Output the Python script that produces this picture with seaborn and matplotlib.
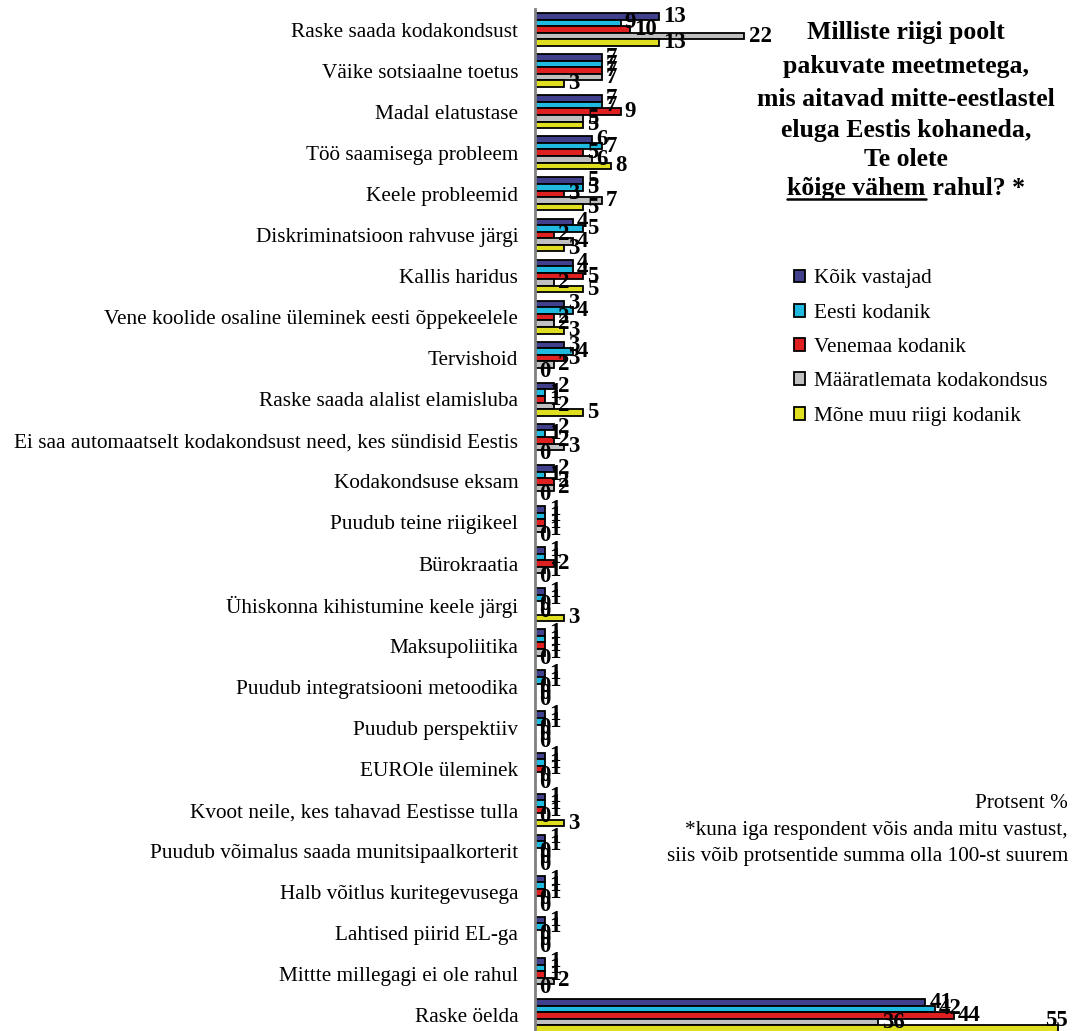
import numpy as np
import pandas as pd
import matplotlib
matplotlib.use("Agg")
import matplotlib.pyplot as plt
from matplotlib.lines import Line2D
import seaborn as sns

# andmed (protsendid)
categories = [
    "Raske saada kodakondsust",
    "Väike sotsiaalne toetus",
    "Madal elatustase",
    "Töö saamisega probleem",
    "Keele probleemid",
    "Diskriminatsioon rahvuse järgi",
    "Kallis haridus",
    "Vene koolide osaline üleminek eesti õppekeelele",
    "Tervishoid",
    "Raske saada alalist elamisluba",
    "Ei saa automaatselt kodakondsust need, kes sündisid Eestis",
    "Kodakondsuse eksam",
    "Puudub teine riigikeel",
    "Bürokraatia",
    "Ühiskonna kihistumine keele järgi",
    "Maksupoliitika",
    "Puudub integratsiooni metoodika",
    "Puudub perspektiiv",
    "EUROle üleminek",
    "Kvoot neile, kes tahavad Eestisse tulla",
    "Puudub võimalus saada munitsipaalkorterit",
    "Halb võitlus kuritegevusega",
    "Lahtised piirid EL-ga",
    "Mittte millegagi ei ole rahul",
    "Raske öelda",
]
series = ["Kõik vastajad", "Eesti kodanik", "Venemaa kodanik",
          "Määratlemata kodakondsus", "Mõne muu riigi kodanik"]

koik = [13, 7, 7, 6, 5, 4, 4, 3, 3, 2, 2, 2, 1, 1, 1, 1, 1, 1, 1, 1, 1, 1, 1, 1, 41]
eesti = [9, 7, 7, 7, 5, 5, 4, 4, 4, 1, 1, 1, 1, 1, 1, 1, 1, 1, 1, 1, 1, 1, 1, 1, 42]
venemaa = [10, 7, 9, 5, 3, 2, 5, 2, 3, 1, 2, 2, 1, 2, 0, 1, 0, 0, 1, 1, 0, 1, 0, 1, 44]
maaratlemata = [22, 7, 5, 6, 7, 4, 2, 2, 2, 2, 3, 2, 1, 1, 0, 1, 0, 0, 0, 0, 0, 0, 0, 2, 36]
muu = [13, 3, 5, 8, 5, 3, 5, 3, 0, 5, 0, 0, 0, 0, 3, 0, 0, 0, 0, 3, 0, 0, 0, 0, 55]

colors = ["#333399", "#00CCFF", "#FF0000", "#C0C0C0", "#FFFF00"]

df = pd.DataFrame({"kategooria": categories, series[0]: koik, series[1]: eesti,
                   series[2]: venemaa, series[3]: maaratlemata, series[4]: muu})
long = df.melt(id_vars="kategooria", var_name="grupp", value_name="protsent")

sns.set_style("white")
plt.rcParams["font.family"] = ["Liberation Serif", "DejaVu Serif"]
plt.rcParams["text.color"] = "black"
plt.rcParams["ytick.labelcolor"] = "black"
plt.rcParams["legend.labelcolor"] = "black"

W, H = 1073, 1031
fig = plt.figure(figsize=(W / 100, H / 100), dpi=100)
ax = fig.add_axes([535 / W, 1 - 1036 / H, (1068 - 535) / W, (1036 - 9) / H])

sns.barplot(data=long, y="kategooria", x="protsent", hue="grupp",
            order=categories, hue_order=series, palette=colors,
            orient="h", errorbar=None, edgecolor="black", linewidth=1.3,
            width=0.8, ax=ax)

for cont in ax.containers:
    anns = ax.bar_label(cont, labels=[f"{b.get_width():g}" for b in cont],
                        padding=3, fontsize=16.5, fontweight="bold",
                        color="black")
    # viimane silt (55) ei mahu paremale - nihutame vasakule
    last = anns[-1]
    if cont.patches[-1].get_width() > 50:
        last.set_horizontalalignment("right")
        last.xyann = (7, 6)

ax.set_xlim(0, 56)
ax.set_xlabel("")
ax.set_ylabel("")
ax.set_xticks([])
for s in ["top", "right", "bottom"]:
    ax.spines[s].set_visible(False)
ax.spines["left"].set_color("#808080")
ax.spines["left"].set_linewidth(2)
ax.tick_params(axis="y", which="major", length=0, pad=12, labelsize=15.3,
               labelcolor="black")
ax.set_yticks(np.arange(-0.5, len(categories)), minor=True)
ax.tick_params(axis="y", which="minor", length=7, width=1.5, color="#808080")

ax.legend(loc="upper left", bbox_to_anchor=(785 / W, 1 - 261 / H),
          bbox_transform=fig.transFigure, frameon=False, fontsize=15.3,
          handlelength=0.55, handleheight=0.55, handletextpad=0.4,
          labelspacing=0.72, borderaxespad=0)

# pealkiri
cx = 906
fs_title = 18.5
title_lines = ["Milliste riigi poolt", "pakuvate meetmetega,",
               "mis aitavad mitte-eestlastel", "eluga Eestis kohaneda,",
               "Te olete"]
ys = [33, 67, 100, 131, 159]
for line, y in zip(title_lines, ys):
    fig.text(cx / W, 1 - y / H, line, ha="center", va="center",
             fontsize=fs_title, fontweight="bold")

base_y = 195
t1 = fig.text(0, 1 - base_y / H, "kõige vähem", ha="left", va="baseline",
              fontsize=fs_title, fontweight="bold")
t2 = fig.text(0, 1 - base_y / H, " rahul? *", ha="left", va="baseline",
              fontsize=fs_title, fontweight="bold")
fig.canvas.draw()
r = fig.canvas.get_renderer()
w1 = t1.get_window_extent(r).width
w2 = t2.get_window_extent(r).width
x0 = cx - (w1 + w2) / 2
t1.set_x(x0 / W)
t2.set_x((x0 + w1) / W)
fig.add_artist(Line2D([x0 / W, (x0 + w1) / W], [1 - (base_y + 4) / H] * 2,
                      color="black", linewidth=1.8))

# märkused
notes = ["Protsent %", "*kuna iga respondent võis anda mitu vastust,",
         "siis võib protsentide summa olla 100-st suurem"]
for line, y in zip(notes, [803, 830, 857]):
    fig.text(1068 / W, 1 - y / H, line, ha="right", va="center", fontsize=15.3)

fig.savefig("out.png", dpi=100)
